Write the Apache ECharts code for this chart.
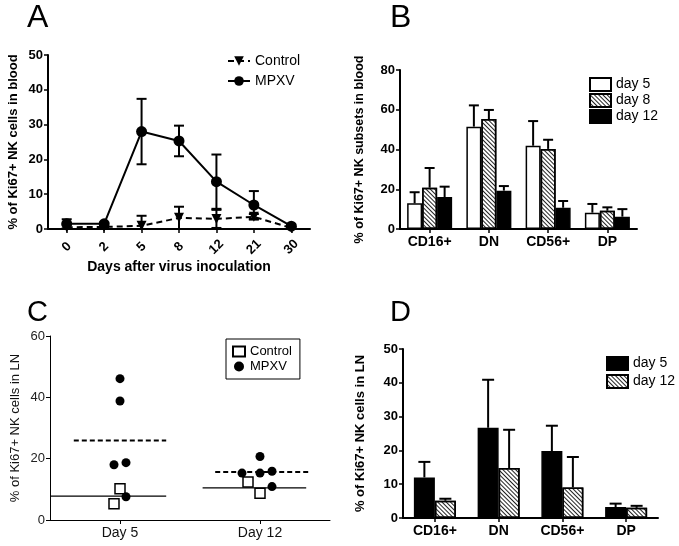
<!DOCTYPE html>
<html>
<head>
<meta charset="utf-8">
<script src="https://cdn.jsdelivr.net/npm/echarts@6/dist/echarts.min.js"></script>
<style>
html,body{margin:0;padding:0;background:#fff;}
#main{width:679px;height:546px;}
</style>
</head>
<body>
<div id="main"></div>
<script>
// ---------- Panel A data ----------
const daysA = ['0', '2', '5', '8', '12', '21', '30'];
const controlMeanA = [0.5, 0.6, 0.9, 3.2, 2.9, 3.5, 0.3];
const controlErrA  = [0.8, 0.3, 2.9, 3.2, 2.6, 0.8, 0.2];
const mpxvMeanA    = [1.5, 1.5, 28.0, 25.3, 13.6, 6.9, 0.8];
const mpxvErrA     = [1.3, 0.3, 9.4, 4.4, 7.8, 4.0, 0.3];

// ---------- Panel B data ----------
const subsets = ['CD16+', 'DN', 'CD56+', 'DP'];
const day5B     = [12.9, 51.5, 41.9, 8.2];
const day5BErr  = [5.6, 10.7, 12.4, 4.4];
const day8B     = [20.8, 55.3, 40.3, 9.2];
const day8BErr  = [9.9, 4.6, 4.6, 1.7];
const day12B    = [16.1, 19.3, 10.7, 6.2];
const day12BErr = [5.2, 2.3, 3.4, 3.8];

// ---------- Panel C data ----------
const daysC = ['Day 5', 'Day 12'];
const mpxvDay5C  = [46.1, 38.8, 18.0, 18.7, 7.6];
const ctrlDay5C  = [10.2, 5.3];
const mpxvDay12C = [15.3, 15.3, 15.9, 20.7, 10.9];
const ctrlDay12C = [12.4, 8.7];
const mpxvMeanC  = [25.9, 15.65];
const ctrlMeanC  = [7.8, 10.5];

// ---------- Panel D data ----------
const day5D     = [12.0, 26.7, 19.8, 3.25];
const day5DErr  = [4.6, 14.2, 7.5, 1.0];
const day12D    = [5.1, 14.8, 9.05, 3.0];
const day12DErr = [0.6, 11.3, 9.0, 0.6];

// ---------- layout / style (not data) ----------
const FONT = 'Arial, "Liberation Sans", sans-serif';
const jitterMpxvDay5 = [0, 0, -6, 6, 6];
const jitterCtrlDay5 = [0, -6];
const jitterMpxvDay12 = [-18, 0, 12, 0, 12];
const jitterCtrlDay12 = [-12, 0];
const dashedExtent = [[-0.33, 0.33], [-0.32, 0.35]];
const solidExtent = [[-0.5, 0.33], [-0.41, 0.33]];

const hatch = {
  symbol: 'rect', symbolSize: 1, color: '#222',
  dashArrayX: [1, 0], dashArrayY: [1, 1.6], rotation: Math.PI / 4
};

function errRender(offsetPx, both, capHalf) {
  return function (params, api) {
    const x = api.value(0), m = api.value(1), e = api.value(2);
    const mid = api.coord([x, m]);
    const top = api.coord([x, m + e]);
    const lowV = both ? Math.max(0, m - e) : m;
    const low = api.coord([x, lowV]);
    const cx = mid[0] + offsetPx;
    const st = { stroke: '#000', lineWidth: 2, fill: null };
    const ch = [
      { type: 'line', shape: { x1: cx, y1: top[1], x2: cx, y2: low[1] }, style: st },
      { type: 'line', shape: { x1: cx - capHalf, y1: top[1], x2: cx + capHalf, y2: top[1] }, style: st }
    ];
    if (both && m - e > 0) {
      ch.push({ type: 'line', shape: { x1: cx - capHalf, y1: low[1], x2: cx + capHalf, y2: low[1] }, style: st });
    }
    return { type: 'group', children: ch };
  };
}

function meanRender(extents, dashed, width) {
  return function (params, api) {
    const i = api.value(0), v = api.value(1);
    const p = api.coord([i, v]);
    const band = api.size([1, 0])[0];
    const ex = extents[params.dataIndex];
    return {
      type: 'line',
      shape: { x1: p[0] + ex[0] * band, y1: p[1], x2: p[0] + ex[1] * band, y2: p[1] },
      style: { stroke: '#000', lineWidth: width, lineDash: dashed ? [5, 3] : null }
    };
  };
}

function errData(means, errs) { return means.map((m, i) => [i, m, errs[i]]); }
function jitterData(vals, jit, cat) {
  return vals.map((v, i) => ({ value: [cat, v], symbolOffset: [jit[i], 0] }));
}

const boldAxisLabel = { color: '#000', fontFamily: FONT, fontWeight: 'bold', fontSize: 13 };
const axisLine2 = { show: true, lineStyle: { color: '#000', width: 2 } };
const tick2 = { show: true, length: 4, lineStyle: { color: '#000', width: 1.5 } };

const chart = echarts.init(document.getElementById('main'), null, { renderer: 'canvas' });

const option = {
  animation: false,
  backgroundColor: '#fff',
  textStyle: { fontFamily: FONT },
  graphic: [
    { type: 'text', left: 27, top: 2, style: { text: 'A', font: '32px ' + FONT, fill: '#000' } },
    { type: 'text', left: 390, top: 2, style: { text: 'B', font: '32px ' + FONT, fill: '#000' } },
    { type: 'text', left: 27, top: 298, style: { text: 'C', font: '29px ' + FONT, fill: '#000' } },
    { type: 'text', left: 390, top: 298, style: { text: 'D', font: '29px ' + FONT, fill: '#000' } }
  ],
  grid: [
    { left: 48, top: 55, width: 262, height: 174 },
    { left: 400, top: 70, width: 237, height: 159 },
    { left: 50, top: 336, width: 280, height: 184 },
    { left: 403, top: 349, width: 255, height: 169 }
  ],
  legend: [
    {
      data: ['Control', 'MPXV'], left: 222, top: 49, orient: 'vertical',
      itemWidth: 22, itemHeight: 12, itemGap: 6,
      textStyle: { fontSize: 14, color: '#000', fontFamily: FONT }
    },
    {
      data: ['day 5', 'day 8', 'day 12'], left: 584, top: 72, orient: 'vertical',
      icon: 'rect', itemWidth: 21, itemHeight: 13, itemGap: 1,
      textStyle: { fontSize: 14, color: '#000', fontFamily: FONT }
    },
    {
      data: ['C:Control', 'C:MPXV'], left: 226, top: 339, orient: 'vertical',
      itemWidth: 12, itemHeight: 10, itemGap: 2, padding: [6, 8, 6, 6],
      borderColor: '#000', borderWidth: 1,
      formatter: n => n.replace('C:', ''),
      textStyle: { fontSize: 13, color: '#000', fontFamily: FONT }
    },
    {
      data: ['D:day 5', 'D:day 12'], left: 601, top: 351, orient: 'vertical',
      icon: 'rect', itemWidth: 21, itemHeight: 13, itemGap: 3,
      formatter: n => n.replace('D:', ''),
      textStyle: { fontSize: 14, color: '#000', fontFamily: FONT }
    }
  ],
  xAxis: [
    {
      type: 'category', gridIndex: 0, data: daysA, axisLine: axisLine2,
      axisTick: Object.assign({ alignWithLabel: true }, tick2),
      axisLabel: Object.assign({ rotate: 45, align: 'center', verticalAlign: 'middle', margin: 18, interval: 0 }, boldAxisLabel),
      name: 'Days after virus inoculation', nameLocation: 'middle', nameGap: 28,
      nameTextStyle: { color: '#000', fontWeight: 'bold', fontSize: 14, fontFamily: FONT }
    },
    {
      type: 'category', gridIndex: 1, data: subsets, axisLine: axisLine2,
      axisTick: Object.assign({ alignWithLabel: true }, tick2),
      axisLabel: Object.assign({ margin: 6, interval: 0 }, boldAxisLabel, { fontSize: 14 })
    },
    {
      type: 'category', gridIndex: 2, data: daysC,
      axisLine: { show: true, lineStyle: { color: '#000', width: 1 } },
      axisTick: { show: true, alignWithLabel: true, length: 4, lineStyle: { color: '#000', width: 1 } },
      axisLabel: { color: '#111', fontFamily: FONT, fontSize: 14, margin: 6 }
    },
    {
      type: 'category', gridIndex: 3, data: subsets, axisLine: axisLine2,
      axisTick: Object.assign({ alignWithLabel: true }, tick2),
      axisLabel: Object.assign({ margin: 6, interval: 0 }, boldAxisLabel, { fontSize: 14 })
    }
  ],
  yAxis: [
    {
      type: 'value', gridIndex: 0, min: 0, max: 50, interval: 10,
      axisLine: axisLine2, axisTick: tick2, splitLine: { show: false },
      axisLabel: Object.assign({ margin: 5 }, boldAxisLabel),
      name: '% of Ki67+ NK cells in blood', nameLocation: 'middle', nameRotate: 90, nameGap: 28,
      nameTextStyle: { color: '#000', fontWeight: 'bold', fontSize: 13, fontFamily: FONT }
    },
    {
      type: 'value', gridIndex: 1, min: 0, max: 80, interval: 20,
      axisLine: axisLine2, axisTick: tick2, splitLine: { show: false },
      axisLabel: Object.assign({ margin: 5 }, boldAxisLabel),
      name: '% of Ki67+ NK subsets in blood', nameLocation: 'middle', nameRotate: 90, nameGap: 34,
      nameTextStyle: { color: '#000', fontWeight: 'bold', fontSize: 12.5, fontFamily: FONT }
    },
    {
      type: 'value', gridIndex: 2, min: 0, max: 60, interval: 20,
      axisLine: { show: true, lineStyle: { color: '#000', width: 1 } },
      axisTick: { show: true, length: 4, lineStyle: { color: '#000', width: 1 } },
      splitLine: { show: false },
      axisLabel: { color: '#222', fontFamily: FONT, fontSize: 13, margin: 5 },
      name: '% of Ki67+ NK cells in LN', nameLocation: 'middle', nameRotate: 90, nameGap: 28,
      nameTextStyle: { color: '#111', fontSize: 13, fontFamily: FONT }
    },
    {
      type: 'value', gridIndex: 3, min: 0, max: 50, interval: 10,
      axisLine: axisLine2, axisTick: tick2, splitLine: { show: false },
      axisLabel: Object.assign({ margin: 5 }, boldAxisLabel),
      name: '% of Ki67+ NK cells in LN', nameLocation: 'middle', nameRotate: 90, nameGap: 36,
      nameTextStyle: { color: '#000', fontWeight: 'bold', fontSize: 13, fontFamily: FONT }
    }
  ],
  series: [
    // ----- A -----
    {
      type: 'custom', name: 'errCtrlA', xAxisIndex: 0, yAxisIndex: 0, z: 3,
      data: errData(controlMeanA, controlErrA), encode: { x: 0, y: 1 },
      renderItem: errRender(0, true, 5)
    },
    {
      type: 'custom', name: 'errMpxvA', xAxisIndex: 0, yAxisIndex: 0, z: 3,
      data: errData(mpxvMeanA, mpxvErrA), encode: { x: 0, y: 1 },
      renderItem: errRender(0, true, 5)
    },
    {
      type: 'line', name: 'Control', xAxisIndex: 0, yAxisIndex: 0, z: 4,
      data: controlMeanA, symbol: 'triangle', symbolRotate: 180, symbolSize: 10,
      lineStyle: { color: '#000', width: 2, type: [6, 4] }, itemStyle: { color: '#000' }
    },
    {
      type: 'line', name: 'MPXV', xAxisIndex: 0, yAxisIndex: 0, z: 5,
      data: mpxvMeanA, symbol: 'circle', symbolSize: 11,
      lineStyle: { color: '#000', width: 2 }, itemStyle: { color: '#000' }
    },
    // ----- B -----
    {
      type: 'bar', name: 'day 5', xAxisIndex: 1, yAxisIndex: 1, data: day5B,
      barWidth: 15, barGap: '0%', itemStyle: { color: '#fff', borderColor: '#000', borderWidth: 1.5 }
    },
    {
      type: 'bar', name: 'day 8', xAxisIndex: 1, yAxisIndex: 1, data: day8B,
      barWidth: 15, barGap: '0%', itemStyle: { color: '#fff', borderColor: '#000', borderWidth: 1.5, decal: hatch }
    },
    {
      type: 'bar', name: 'day 12', xAxisIndex: 1, yAxisIndex: 1, data: day12B,
      barWidth: 15, barGap: '0%', itemStyle: { color: '#000', borderColor: '#000', borderWidth: 1.5 }
    },
    {
      type: 'custom', name: 'errB5', xAxisIndex: 1, yAxisIndex: 1, z: 3,
      data: errData(day5B, day5BErr), encode: { x: 0, y: 1 }, renderItem: errRender(-15, false, 5)
    },
    {
      type: 'custom', name: 'errB8', xAxisIndex: 1, yAxisIndex: 1, z: 3,
      data: errData(day8B, day8BErr), encode: { x: 0, y: 1 }, renderItem: errRender(0, false, 5)
    },
    {
      type: 'custom', name: 'errB12', xAxisIndex: 1, yAxisIndex: 1, z: 3,
      data: errData(day12B, day12BErr), encode: { x: 0, y: 1 }, renderItem: errRender(15, false, 5)
    },
    // ----- C -----
    {
      type: 'custom', name: 'meanMpxvC', xAxisIndex: 2, yAxisIndex: 2, z: 2,
      data: mpxvMeanC.map((v, i) => [i, v]), encode: { x: 0, y: 1 },
      renderItem: meanRender(dashedExtent, true, 2)
    },
    {
      type: 'custom', name: 'meanCtrlC', xAxisIndex: 2, yAxisIndex: 2, z: 2,
      data: ctrlMeanC.map((v, i) => [i, v]), encode: { x: 0, y: 1 },
      renderItem: meanRender(solidExtent, false, 1.3)
    },
    {
      type: 'scatter', name: 'C:Control', xAxisIndex: 2, yAxisIndex: 2, z: 4,
      symbol: 'rect', symbolSize: 10,
      itemStyle: { color: '#fff', borderColor: '#000', borderWidth: 1.5, opacity: 1 },
      data: jitterData(ctrlDay5C, jitterCtrlDay5, 0).concat(jitterData(ctrlDay12C, jitterCtrlDay12, 1))
    },
    {
      type: 'scatter', name: 'C:MPXV', xAxisIndex: 2, yAxisIndex: 2, z: 5,
      symbol: 'circle', symbolSize: 9,
      itemStyle: { color: '#000', opacity: 1 },
      data: jitterData(mpxvDay5C, jitterMpxvDay5, 0).concat(jitterData(mpxvDay12C, jitterMpxvDay12, 1))
    },
    // ----- D -----
    {
      type: 'bar', name: 'D:day 5', xAxisIndex: 3, yAxisIndex: 3, data: day5D,
      barWidth: 21, barGap: '0%', itemStyle: { color: '#000', borderColor: '#000', borderWidth: 1.5 }
    },
    {
      type: 'bar', name: 'D:day 12', xAxisIndex: 3, yAxisIndex: 3, data: day12D,
      barWidth: 21, barGap: '0%', itemStyle: { color: '#fff', borderColor: '#000', borderWidth: 1.5, decal: hatch }
    },
    {
      type: 'custom', name: 'errD5', xAxisIndex: 3, yAxisIndex: 3, z: 3,
      data: errData(day5D, day5DErr), encode: { x: 0, y: 1 }, renderItem: errRender(-10.5, false, 6)
    },
    {
      type: 'custom', name: 'errD12', xAxisIndex: 3, yAxisIndex: 3, z: 3,
      data: errData(day12D, day12DErr), encode: { x: 0, y: 1 }, renderItem: errRender(10.5, false, 6)
    }
  ]
};

chart.setOption(option);
</script>
</body>
</html>
